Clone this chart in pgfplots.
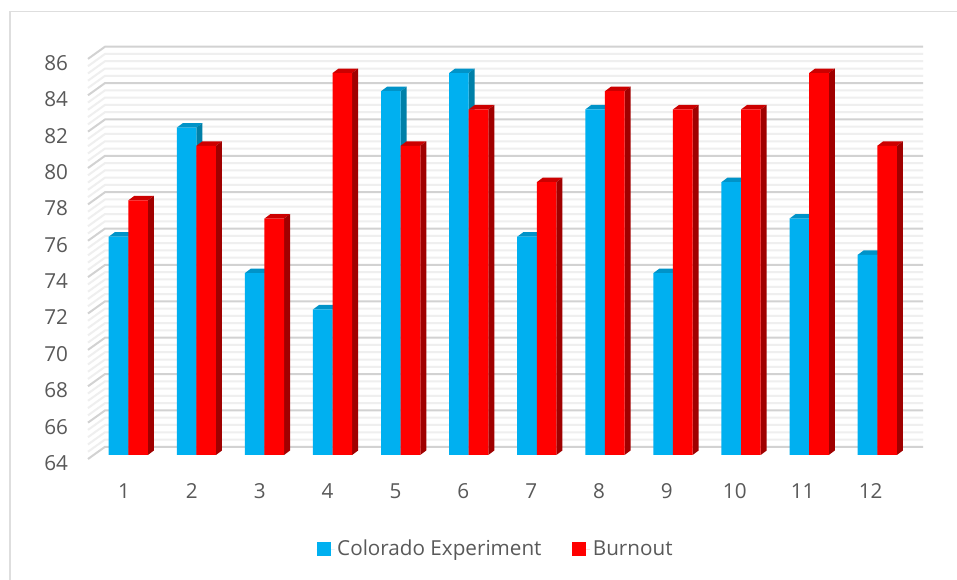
\documentclass[border=0pt]{standalone}
\usepackage{pgfplots}
\usepackage{pgfplotstable}
\usepackage{fontspec}
\setmainfont{Open Sans}
\pgfplotsset{compat=1.18}
\definecolor{cBlue}{HTML}{00B0F0}
\definecolor{cBlueTop}{HTML}{0093C8}
\definecolor{cBlueSide}{HTML}{0080A8}
\definecolor{cRed}{HTML}{FF0000}
\definecolor{cRedTop}{HTML}{CC0000}
\definecolor{cRedSide}{HTML}{A00000}
\definecolor{gMajor}{HTML}{D2D2D2}
\definecolor{gMinor}{HTML}{EFEFEF}
\definecolor{frameC}{HTML}{DEDEDE}
\definecolor{txt}{HTML}{595959}
\pgfplotstableread{
g  blue red
1  76 78
2  82 81
3  74 77
4  72 85
5  84 81
6  85 83
7  76 79
8  83 84
9  74 83
10 79 83
11 77 85
12 75 81
}\chartdata
% faces: #1 column, #2 x offset of left bar edge, #3 top colour, #4 side colour
\newcommand\barfaces[4]{%
  \foreach \i in {0,...,11}{%
    \pgfplotstablegetelem{\i}{g}\of\chartdata \let\gg\pgfplotsretval
    \pgfplotstablegetelem{\i}{#1}\of\chartdata \let\vv\pgfplotsretval
    \pgfmathsetmacro\xa{\gg+#2}
    \pgfmathsetmacro\xb{\xa+0.2879}
    \pgfmathsetmacro\xc{\xb+0.0881}
    \pgfmathsetmacro\xd{\xa+0.0881}
    \pgfmathsetmacro\yb{\vv+0.2474}
    \edef\tmp{\noexpand\addplot[fill=#3,draw=none,forget plot] coordinates {(\xa,\vv)(\xd,\yb)(\xc,\yb)(\xb,\vv)};
      \noexpand\addplot[fill=#4,draw=none,forget plot] coordinates {(\xb,64)(\xc,64.2474)(\xc,\yb)(\xb,\vv)};}%
    \tmp
  }%
}
\begin{document}
\begin{tikzpicture}[x=0.75pt,y=0.75pt]
\useasboundingbox (-88,-125) rectangle (869,455);
\fill[white] (-88,-125) rectangle (869,455);
\draw[color=frameC,line width=1.3pt] (869,443.5) -- (-78,443.5) -- (-78,-125);
\begin{axis}[
  at={(0,0)},anchor=south west,
  scale only axis,width=626.25pt,height=306.225pt,
  xmin=0.408,xmax=12.672,ymin=64,ymax=86.45,
  clip=false,
  axis line style={draw=none},
  major tick length=0pt,
  xtick={0.937,1.934,2.930,3.927,4.924,5.920,6.917,7.914,8.910,9.907,10.904,11.903},
  xticklabels={1,2,3,4,5,6,7,8,9,10,11,12},
  ytick={64,66,...,86},
  tick label style={font=\fontsize{15.5pt}{17pt}\selectfont,text=txt},
  /pgf/number format/assume math mode=true,
  x tick label style={yshift=-18pt},
  y tick label style={yshift=-6pt,xshift=-11.5pt},
  legend style={draw=none,fill=none,at={(0.4885,-0.2305)},anchor=center,
    legend columns=2,font=\fontsize{15.5pt}{17pt}\selectfont,text=txt,
    /tikz/every even column/.append style={column sep=21pt}},
  legend image code/.code={\fill[#1] (0pt,-5.25pt) rectangle (10.5pt,5.25pt);\path (0pt,0pt) -- (13.5pt,0pt);},
]
% wall grid
\foreach \k in {0,...,55}{%
  \pgfmathtruncatemacro\md{mod(\k,5)}
  \ifnum\md>0
    \pgfmathsetmacro\va{64+0.4*\k-0.22}\pgfmathsetmacro\vb{64+0.4*\k+0.45}
    \edef\tmp{\noexpand\addplot[color=gMinor,line width=1.5pt,forget plot] coordinates {(0.408,\va)(0.6577,\vb)(12.672,\vb)};}\tmp
  \fi
}
\foreach \k in {0,5,...,55}{%
    \pgfmathsetmacro\va{64+0.4*\k-0.22}\pgfmathsetmacro\vb{64+0.4*\k+0.45}
    \edef\tmp{\noexpand\addplot[color=gMajor,line width=1.5pt,forget plot] coordinates {(0.408,\va)(0.6577,\vb)(12.672,\vb)};}\tmp
}
% bars
\barfaces{blue}{-0.2879}{cBlueTop}{cBlueSide}
\addplot[ybar,bar width=14.7pt,bar shift=-7.35pt,fill=cBlue,draw=none,forget plot] table[x=g,y=blue]{\chartdata};
\barfaces{red}{0}{cRedTop}{cRedSide}
\addplot[ybar,bar width=14.7pt,bar shift=7.35pt,fill=cRed,draw=none,forget plot] table[x=g,y=red]{\chartdata};
\addlegendimage{fill=cBlue,draw=none}
\addlegendentry{Colorado Experiment}
\addlegendimage{fill=cRed,draw=none}
\addlegendentry{Burnout}
\end{axis}
\end{tikzpicture}
\end{document}
